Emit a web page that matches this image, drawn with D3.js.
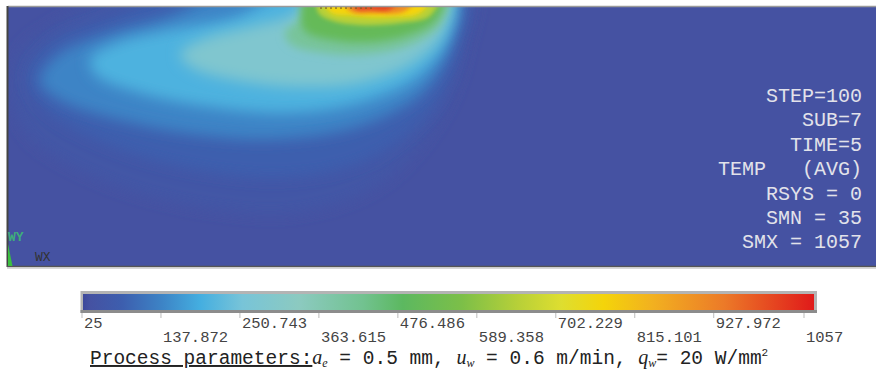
<!DOCTYPE html>
<html><head><meta charset="utf-8">
<script src="https://cdn.jsdelivr.net/npm/d3@7"></script>
<style>body{margin:0;background:#fff;} svg{display:block;}</style>
</head><body>
<svg id="chart" width="876" height="372"></svg>
<script>
// ---- data ----
const colorValues = [25, 35, 80, 137, 190, 250, 330, 420, 476, 560, 640, 700, 760, 830, 930, 1057];
const colorHex = ["#3c489b","#4552a2","#3d5eae","#3d84c6","#44aee0","#78c4d8","#8ccac0","#72c290","#5cb860","#7cbf48","#b8d038","#dede30","#f4d40a","#f2b020","#ec7a28","#e01a1a"];
const tickValues = [25, 137.872, 250.743, 363.615, 476.486, 589.358, 702.229, 815.101, 927.972, 1057];
const tickLabels = ["25","137.872","250.743","363.615","476.486","589.358","702.229","815.101","927.972","1057"];
const backgroundTemp = 35;
// isotherm levels (°C) and their contours: [x along workpiece, depth]
const isoLevels = [50, 80, 137, 200, 280, 400, 500, 640, 760, 900, 1000];
const isoContours = [
  [[462,0],[458,40],[435,105],[375,175],[292,205],[192,200],[92,172],[22,130],[4,88],[12,45],[52,14],[112,0]],
  [[455,0],[451,35],[425,100],[365,150],[282,170],[192,163],[102,138],[35,100],[20,68],[45,35],[100,12],[172,0]],
  [[448,0],[444,35],[415,85],[355,118],[272,132],[192,128],[112,113],[52,93],[32,74],[50,48],[100,27],[160,10],[220,0]],
  [[443,0],[440,30],[410,70],[352,96],[282,106],[202,100],[132,86],[88,68],[82,52],[108,36],[165,22],[230,9],[280,0]],
  [[441,0],[436,25],[405,56],[352,76],[292,80],[232,74],[185,61],[172,47],[195,32],[245,19],[285,7],[305,0]],
  [[439,0],[432,18],[402,38],[362,47],[315,46],[282,37],[277,25],[294,11],[312,0]],
  [[436,0],[428,13],[400,28],[362,35],[325,33],[298,25],[293,13],[300,0]],
  [[432,0],[422,9],[392,16],[352,18],[322,13],[310,5],[312,0]],
  [[425,0],[412,6],[382,10],[347,9],[322,5],[314,0]],
  [[412,0],[397,4],[367,6],[342,4],[332,0]],
  [[397,0],[382,2.5],[362,3],[347,1.5],[347,0]]
];
const infoLines = ["STEP=100","SUB=7","TIME=5","TEMP   (AVG)","RSYS = 0","SMN = 35","SMX = 1057"];

// ---- drawing ----
const svg = d3.select("#chart");
const defs = svg.append("defs");
const color = d3.scaleLinear().domain(colorValues).range(colorHex).interpolate(d3.interpolateRgb).clamp(true);
const xScale = d3.scaleLinear().domain([0, 868]).range([8, 876]);
const yScale = d3.scaleLinear().domain([0, 259]).range([7, 266]);

defs.append("clipPath").attr("id","plotClip").append("rect")
  .attr("x", xScale(0)).attr("y", yScale(0)).attr("width", xScale(868)-xScale(0)).attr("height", yScale(259)-yScale(0));

[["blurL",7],["blurM",4],["blurS",2]].forEach(([id,s])=>{
  defs.append("filter").attr("id",id).attr("x","-30%").attr("y","-60%").attr("width","160%").attr("height","220%")
    .append("feGaussianBlur").attr("stdDeviation", s);
});

const plot = svg.append("g").attr("clip-path","url(#plotClip)");
plot.append("rect").attr("x", xScale(0)).attr("y", yScale(0)).attr("width", xScale(868)-xScale(0)).attr("height", yScale(259)-yScale(0))
  .attr("fill", color(backgroundTemp));

const line = d3.line()
  .x(d => xScale(d[0]))
  .y(d => d[1] === 0 ? yScale(0) - 16 : yScale(d[1]))
  .curve(d3.curveCatmullRomClosed.alpha(0.5));

isoLevels.forEach((lv, i) => {
  plot.append("path").attr("d", line(isoContours[i]))
    .attr("fill", color(lv))
    .attr("filter", lv < 300 ? "url(#blurL)" : (lv < 600 ? "url(#blurM)" : "url(#blurS)"));
});

// mesh marks along top at the contact zone
plot.append("line").attr("x1", xScale(312)).attr("x2", xScale(365)).attr("y1", yScale(0)+1).attr("y2", yScale(0)+1)
  .attr("stroke","#7a5a20").attr("stroke-width",2).attr("stroke-dasharray","2,3").attr("opacity",0.6);

// frame
svg.append("line").attr("x1",8).attr("x2",876).attr("y1",6.5).attr("y2",6.5).attr("stroke","#9a9a9a").attr("stroke-width",1.5);
svg.append("line").attr("x1",7.5).attr("x2",7.5).attr("y1",6).attr("y2",267).attr("stroke","#444").attr("stroke-width",2);
svg.append("line").attr("x1",7).attr("x2",876).attr("y1",266.5).attr("y2",266.5).attr("stroke","#555").attr("stroke-width",1.5);
svg.append("line").attr("x1",7).attr("x2",876).attr("y1",268).attr("y2",268).attr("stroke","#ccc").attr("stroke-width",1.5);

// triad
svg.append("path").attr("d","M8,244 L12.5,266 L8,266 Z").attr("fill","#3cc040");
svg.append("text").attr("x",8).attr("y",241).attr("font-family","Liberation Mono, monospace").attr("font-size",13)
  .attr("font-weight","bold").attr("fill","#3fae7a").text("WY");
svg.append("text").attr("x",35).attr("y",261).attr("font-family","Liberation Mono, monospace").attr("font-size",13)
  .attr("fill","#333").text("WX");

// info text
svg.append("g").selectAll("text").data(infoLines).join("text")
  .attr("x", 862).attr("y", (d,i) => 102 + i*24.4)
  .attr("text-anchor","end").attr("font-family","Liberation Mono, monospace").attr("font-size",20)
  .attr("fill","#e2e2ea").attr("xml:space","preserve").style("white-space","pre").text(d => d);

// colorbar
const barScale = d3.scaleLinear().domain([25, 1057]).range([83, 814]);
const tickScale = d3.scaleLinear().domain([25, 1057]).range([82, 804]);
const grad = defs.append("linearGradient").attr("id","cbGrad").attr("x1","0%").attr("x2","100%");
colorValues.forEach((v,i)=>{
  grad.append("stop").attr("offset", ((barScale(v)-83)/(814-83)*100)+"%").attr("stop-color", colorHex[i]);
});
svg.append("rect").attr("x",80.5).attr("y",291).attr("width",736.5).attr("height",22).attr("fill","#b4b4b4");
svg.append("rect").attr("x",80.5).attr("y",310).attr("width",736.5).attr("height",3).attr("fill","#8c8c8c");
svg.append("rect").attr("x",barScale(25)).attr("y",294).attr("width",barScale(1057)-barScale(25)).attr("height",16).attr("fill","url(#cbGrad)");

const tg = svg.append("g");
tg.selectAll("line").data(tickValues).join("line")
  .attr("x1", d => tickScale(d)).attr("x2", d => tickScale(d)).attr("y1",313).attr("y2",318)
  .attr("stroke","#bbb").attr("stroke-width",1);
tg.selectAll("text").data(tickValues).join("text")
  .attr("x", d => tickScale(d) + 2).attr("y", (d,i) => i%2 === 0 ? 327.5 : 341.5)
  .attr("font-family","Liberation Mono, monospace").attr("font-size",15.5).attr("fill","#444")
  .text((d,i) => tickLabels[i]);

// process parameters line
const pt = svg.append("text").attr("x",90).attr("y",364).attr("font-family","Liberation Mono, monospace")
  .attr("font-size",19.5).attr("fill","#222").style("white-space","pre").attr("xml:space","preserve");
pt.append("tspan").attr("text-decoration","underline").text("Process parameters:");
const addVar = (v, sub) => {
  pt.append("tspan").attr("font-family","Liberation Serif, serif").attr("font-style","italic").attr("font-size",20).text(v);
  pt.append("tspan").attr("font-family","Liberation Serif, serif").attr("font-style","italic").attr("font-size",12).attr("dy",3).text(sub);
};
addVar("a","e");
pt.append("tspan").attr("dy",-3).text(" = 0.5 mm, ");
addVar("u","w");
pt.append("tspan").attr("dy",-3).text(" = 0.6 m/min, ");
addVar("q","w");
pt.append("tspan").attr("dy",-3).text("= 20 W/mm");
pt.append("tspan").attr("font-size",11).attr("dy",-8).text("2");
</script>
</body></html>
